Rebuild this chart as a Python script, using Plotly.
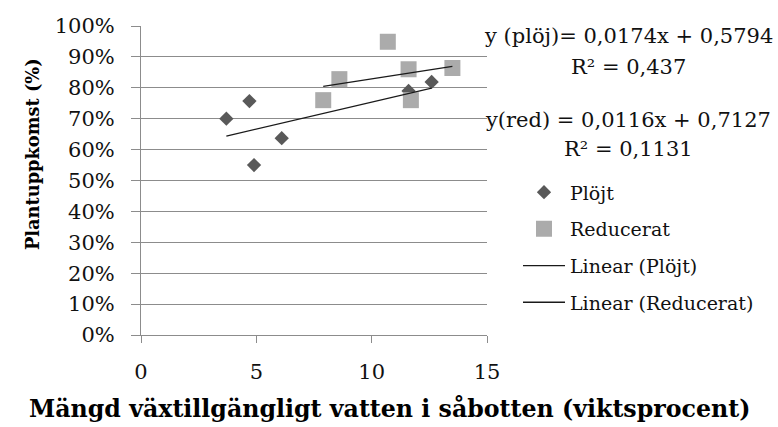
import plotly.graph_objects as go

# Plantuppkomst vs växttillgängligt vatten, två jordbearbetningar
plojt_x = [3.7, 4.7, 4.9, 6.1, 11.6, 12.6]
plojt_y = [0.70, 0.757, 0.55, 0.637, 0.79, 0.819]

red_x = [7.9, 8.6, 10.7, 11.6, 11.7, 13.5]
red_y = [0.76, 0.828, 0.949, 0.86, 0.76, 0.864]

# Linjära trendlinjer (lutning, intercept) och förklaringsgrad
plojt_fit = (0.0174, 0.5794)
plojt_r2 = "0,437"
red_fit = (0.0116, 0.7127)
red_r2 = "0,1131"

x_ticks = [0, 5, 10, 15]
y_ticks = [i / 10 for i in range(11)]

FONT = "DejaVu Serif, Liberation Serif, serif"
INK = "#111111"

# plot area in pixels
W, H = 778, 427
L, R, T, B = 141, 487, 25.5, 335.5


def px(x):
    return (x - L) / (R - L)


def py(y):
    return (B - y) / (B - T)


def trend(xs, fit):
    a, b = fit
    lo, hi = min(xs), max(xs)
    return [lo, hi], [a * lo + b, a * hi + b]


def eq_text(name, fit):
    a, b = fit
    return f"{name} {a:.4f}x + {b:.4f}".replace(".", ",")


fig = go.Figure()
fig.add_trace(go.Scatter(
    x=plojt_x, y=plojt_y, mode="markers", name="Plöjt", legendgroup="a",
    marker=dict(symbol="diamond", size=11, color="#595959"),
))
fig.add_trace(go.Scatter(
    x=red_x, y=red_y, mode="markers", name="Reducerat", legendgroup="b",
    marker=dict(symbol="square", size=16, color="#ababab"),
))
tx, ty = trend(plojt_x, plojt_fit)
fig.add_trace(go.Scatter(
    x=tx, y=ty, mode="lines", name="Linear (Plöjt)", legendgroup="c",
    line=dict(color="#1a1a1a", width=1.3),
))
tx, ty = trend(red_x, red_fit)
fig.add_trace(go.Scatter(
    x=tx, y=ty, mode="lines", name="Linear (Reducerat)", legendgroup="d",
    line=dict(color="#1a1a1a", width=1.3),
))

eq_lines = [
    (eq_text("y (plöj)=", plojt_fit), 36),
    ("R² = " + plojt_r2, 67),
    (eq_text("y(red) =", red_fit), 120),
    ("R² = " + red_r2, 149),
]
for txt, yy in eq_lines:
    fig.add_annotation(
        text=txt, xref="paper", yref="paper", x=px(628), y=py(yy),
        xanchor="center", yanchor="middle", showarrow=False,
        font=dict(family=FONT, size=21, color=INK),
    )

fig.add_annotation(
    text="<b>Mängd växtillgängligt vatten i såbotten (viktsprocent)</b>",
    xref="paper", yref="paper", x=px(389), y=py(410),
    xanchor="center", yanchor="middle", showarrow=False,
    font=dict(family=FONT, size=23.7, color="#000000"),
)
fig.add_annotation(
    text="<b>Plantuppkomst (%)</b>",
    xref="paper", yref="paper", x=px(32), y=py(154),
    xanchor="center", yanchor="middle", showarrow=False, textangle=-90,
    font=dict(family=FONT, size=17.8, color="#000000"),
)

fig.update_layout(
    width=W, height=H,
    margin=dict(l=L, r=W - R, t=T, b=H - B, pad=0),
    paper_bgcolor="white", plot_bgcolor="white",
    font=dict(family=FONT, size=21, color=INK),
    showlegend=True,
    legend=dict(
        x=px(518), y=py(173.3), xanchor="left", yanchor="top",
        bgcolor="rgba(0,0,0,0)", tracegroupgap=9,
        font=dict(family=FONT, size=19, color=INK),
        itemwidth=42,
    ),
    xaxis=dict(
        range=[0, 15], tickvals=x_ticks, ticks="outside", ticklen=7,
        tickcolor="#8c8c8c", showgrid=False, zeroline=False,
        showline=True, linecolor="#8c8c8c", linewidth=1,
        ticklabelstandoff=11,
    ),
    yaxis=dict(
        range=[0, 1], tickvals=y_ticks, tickformat=".0%", ticks="outside",
        ticklen=9, tickcolor="#8c8c8c", showgrid=True, gridcolor="#8c8c8c",
        gridwidth=1, zeroline=False, showline=True, linecolor="#8c8c8c",
        linewidth=1, ticklabelstandoff=12,
    ),
)

fig.write_html("out.html")
